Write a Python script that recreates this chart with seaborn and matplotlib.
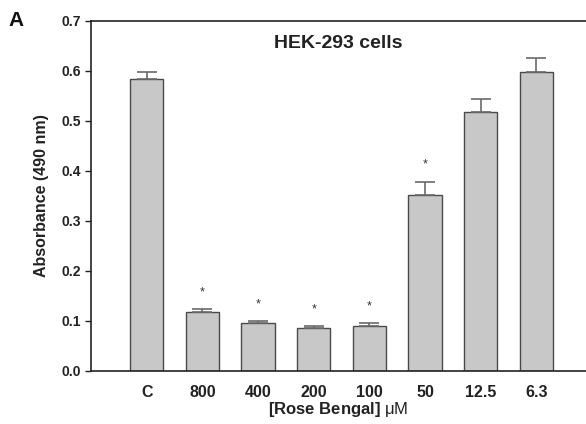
import matplotlib
matplotlib.use('Agg')
import matplotlib.pyplot as plt
import seaborn as sns

# data
doses = ['C', '800', '400', '200', '100', '50', '12.5', '6.3']
absorbance = [0.584, 0.117, 0.095, 0.086, 0.090, 0.351, 0.517, 0.597]
sem = [0.013, 0.006, 0.004, 0.004, 0.005, 0.027, 0.026, 0.028]
significant = [False, True, True, True, True, True, False, False]

sns.set_style('ticks')
plt.rcParams['font.family'] = ['Liberation Sans', 'DejaVu Sans']
plt.rcParams['mathtext.fontset'] = 'custom'
plt.rcParams['mathtext.rm'] = 'Liberation Sans'

fig = plt.figure(figsize=(5.86, 4.24), dpi=100)
ax = fig.add_axes([91 / 586, 1 - 371 / 424, 1 - 91 / 586, (371 - 20.7) / 424])

sns.barplot(x=doses, y=absorbance, color='#c8c8c8', saturation=1, width=0.6,
            edgecolor='#4a4a4a', linewidth=1.0, ax=ax)

xpos = list(range(len(doses)))
ax.errorbar(xpos, absorbance, yerr=[[0] * len(sem), sem], fmt='none',
            ecolor='#6a6a6a', elinewidth=1.2, capsize=7, capthick=1.2, zorder=1)

# asterisks above the significant bars
for x, y, e, s in zip(xpos, absorbance, sem, significant):
    if s:
        ax.text(x, y + e + 0.022, '*', ha='center', va='bottom',
                fontsize=9, color='#333333')

ax.set_xlim(-1, 7.89)
ax.set_ylim(0, 0.7)
ax.set_yticks([0, 0.1, 0.2, 0.3, 0.4, 0.5, 0.6, 0.7])
ax.set_yticklabels([f'{v:.1f}' for v in ax.get_yticks()])
ax.tick_params(axis='y', length=4, width=1, labelsize=10, colors='#222222')
ax.tick_params(axis='x', length=0, labelsize=11.5, pad=10, colors='#222222')
for lab in ax.get_xticklabels() + ax.get_yticklabels():
    lab.set_fontweight('bold')

ax.set_ylabel('Absorbance (490 nm)', fontsize=11.5, fontweight='bold',
              color='#222222', labelpad=9)
ax.set_xlabel(r'[Rose Bengal] $\mathrm{\mu M}$', fontsize=12,
              fontweight='bold', color='#222222', labelpad=0)

ax.spines['right'].set_visible(False)
for side in ['left', 'bottom', 'top']:
    ax.spines[side].set_linewidth(1.2)
    ax.spines[side].set_color('#222222')

ax.text(0.5, 0.921, 'HEK-293 cells', transform=ax.transAxes, ha='center',
        va='baseline', fontsize=14, fontweight='bold', color='#222222')
fig.text(8 / 586, 1 - 26 / 424, 'A', ha='left', va='baseline',
         fontsize=15, fontweight='bold', color='#111111')

fig.savefig('out.png', dpi=100)
